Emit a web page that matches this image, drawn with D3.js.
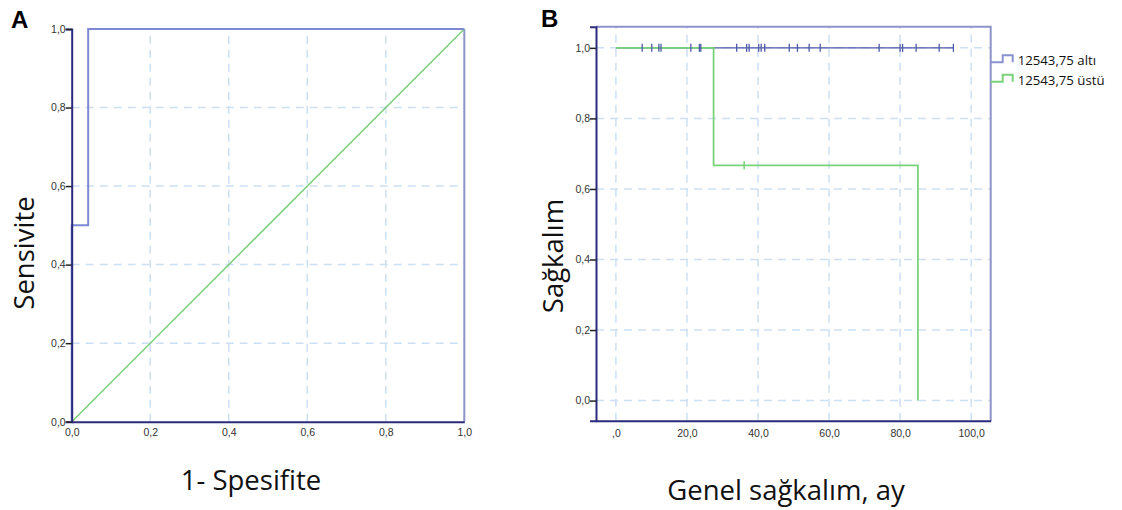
<!DOCTYPE html>
<html lang="tr">
<head>
<meta charset="UTF-8">
<title>ROC ve sağkalım</title>
<script src="https://d3js.org/d3.v7.min.js"></script>
<style>
  body { margin: 0; background: #fff; }
  svg { display: block; }
  .tick-label { font-family: "Liberation Sans", Arial, sans-serif; font-size: 10.5px; fill: #333; }
  .axis-title { font-family: "Open Sans", sans-serif; font-size: 27.5px; fill: #111; }
  .panel-letter { font-family: "Liberation Sans", Arial, sans-serif; font-size: 24px; font-weight: bold; fill: #000; }
  .legend-text { font-family: "Open Sans", sans-serif; font-size: 13.2px; fill: #111; }
</style>
</head>
<body>
<svg width="1122" height="510" id="mainsvg"></svg>
<script>
// ---- panel A: ROC ----
const rocFpr = [0, 0, 0.042, 0.042, 1];
const rocTpr = [0, 0.5, 0.5, 1, 1];
const refFpr = [0, 1];
const refTpr = [0, 1];
const ticksA = [0, 0.2, 0.4, 0.6, 0.8, 1];
const tickLabelsA = ["0,0", "0,2", "0,4", "0,6", "0,8", "1,0"];

// ---- panel B: Kaplan-Meier ----
const groups = ["12543,75 altı", "12543,75 üstü"];
const altiTimes = [0, 95.0];
const altiSurv = [1, 1];
const altiCensor = [7.4, 10.1, 12.1, 12.7, 21.1, 23.5, 23.9, 34.0, 36.8, 37.5, 40.2, 40.9, 41.9,
                    48.8, 51.1, 54.4, 57.5, 74.1, 80.0, 80.7, 84.5, 91.0, 95.0];
const ustuTimes = [0, 27.5, 85.0];
const ustuSurv = [1, 0.667, 0];
const ustuCensor = [36.1];
const ustuCensorSurv = [0.667];
const xTicksB = [0, 20, 40, 60, 80, 100];
const xTickLabelsB = [",0", "20,0", "40,0", "60,0", "80,0", "100,0"];
const yTicksB = [0, 0.2, 0.4, 0.6, 0.8, 1];
const yTickLabelsB = ["0,0", "0,2", "0,4", "0,6", "0,8", "1,0"];

const svg = d3.select("#mainsvg")
svg.append("rect").attr("width", 1122).attr("height", 510).attr("fill", "#fff")

const gridColor = "#cde0f3"
const axisColor = "#2b2b7e"
const frameColor = "#8e93c8"
const green = "#78d27a"

// ================= A =================
const xA = d3.scaleLinear().domain([0, 1]).range([71.7, 464.3])
const yA = d3.scaleLinear().domain([0, 1]).range([421.7, 29])
const gA = svg.append("g")

// grid
gA.selectAll(".vgrid").data(ticksA.slice(1, 5)).join("line")
    .attr("x1", d => xA(d)).attr("x2", d => xA(d))
    .attr("y1", yA(0)).attr("y2", yA(1))
    .attr("stroke", gridColor).attr("stroke-width", 1.5).attr("stroke-dasharray", "8,6")
gA.selectAll(".hgrid").data(ticksA.slice(1, 5)).join("line")
    .attr("x1", xA(0)).attr("x2", xA(1))
    .attr("y1", d => yA(d)).attr("y2", d => yA(d))
    .attr("stroke", gridColor).attr("stroke-width", 1.5).attr("stroke-dasharray", "8,6")

// right frame
gA.append("line").attr("x1", xA(1)).attr("x2", xA(1)).attr("y1", yA(0)).attr("y2", yA(1))
    .attr("stroke", frameColor).attr("stroke-width", 2)

// reference diagonal
const lineA = d3.line().x(d => xA(d[0])).y(d => yA(d[1]))
gA.append("path").datum(d3.zip(refFpr, refTpr)).attr("d", lineA)
    .attr("fill", "none").attr("stroke", green).attr("stroke-width", 1.5)

// ROC curve
gA.append("path").datum(d3.zip(rocFpr, rocTpr)).attr("d", lineA)
    .attr("fill", "none").attr("stroke", "#7f89d3").attr("stroke-width", 2)

// axes
const axisLeftA = d3.axisLeft(yA).tickValues(ticksA).tickSize(6).tickFormat((d, i) => tickLabelsA[i])
const axisBottomA = d3.axisBottom(xA).tickValues(ticksA).tickSize(0).tickPadding(7).tickFormat((d, i) => tickLabelsA[i])
const yAxisA = gA.append("g").attr("transform", `translate(${xA(0)},0)`).call(axisLeftA)
const xAxisA = gA.append("g").attr("transform", `translate(0,${yA(0)})`).call(axisBottomA)
;[yAxisA, xAxisA].forEach(a => {
    a.select(".domain").attr("stroke", axisColor).attr("stroke-width", 2)
    a.selectAll(".tick line").attr("stroke", "#222").attr("stroke-width", 1.5)
    a.selectAll(".tick text").attr("class", "tick-label").attr("font-family", null).attr("font-size", null)
})
yAxisA.selectAll(".tick text").attr("x", -6)

gA.append("text").attr("class", "panel-letter").attr("x", 11).attr("y", 28).text("A")
gA.append("text").attr("class", "axis-title")
    .attr("transform", `translate(34,253) rotate(-90)`)
    .attr("text-anchor", "middle").text("Sensivite")
gA.append("text").attr("class", "axis-title").attr("x", 251).attr("y", 490)
    .attr("text-anchor", "middle").text("1- Spesifite")

// ================= B =================
const xB = d3.scaleLinear().domain([-5.6, 105.5]).range([596, 990.7])
const yB = d3.scaleLinear().domain([-0.057, 1.06]).range([420.7, 26.7])
const gB = svg.append("g")

// grid
gB.selectAll(".vgrid").data(xTicksB).join("line")
    .attr("x1", d => xB(d)).attr("x2", d => xB(d))
    .attr("y1", yB.range()[0]).attr("y2", yB.range()[1])
    .attr("stroke", gridColor).attr("stroke-width", 1.5).attr("stroke-dasharray", "8,6")
gB.selectAll(".hgrid").data(yTicksB).join("line")
    .attr("x1", xB.range()[0]).attr("x2", xB.range()[1])
    .attr("y1", d => yB(d)).attr("y2", d => yB(d))
    .attr("stroke", gridColor).attr("stroke-width", 1.5).attr("stroke-dasharray", "8,6")

// top + right frame
gB.append("path")
    .attr("d", `M${xB.range()[0]},${yB.range()[1]}H${xB.range()[1]}V${yB.range()[0]}`)
    .attr("fill", "none").attr("stroke", frameColor).attr("stroke-width", 2)

const stepB = d3.line().x(d => xB(d[0])).y(d => yB(d[1])).curve(d3.curveStepAfter)
const blue = "#4d59a8"
gB.append("path").datum(d3.zip(altiTimes, altiSurv)).attr("d", stepB)
    .attr("fill", "none").attr("stroke", blue).attr("stroke-width", 1.3)
gB.append("path").datum(d3.zip(ustuTimes, ustuSurv)).attr("d", stepB)
    .attr("fill", "none").attr("stroke", green).attr("stroke-width", 1.8)

// censor marks
gB.selectAll(".cens-a").data(altiCensor).join("line")
    .attr("x1", d => xB(d)).attr("x2", d => xB(d))
    .attr("y1", yB(1) - 4).attr("y2", yB(1) + 4)
    .attr("stroke", blue).attr("stroke-width", 1.3)
gB.selectAll(".cens-u").data(d3.zip(ustuCensor, ustuCensorSurv)).join("line")
    .attr("x1", d => xB(d[0])).attr("x2", d => xB(d[0]))
    .attr("y1", d => yB(d[1]) - 4).attr("y2", d => yB(d[1]) + 4)
    .attr("stroke", green).attr("stroke-width", 1.5)

// axes
const axisLeftB = d3.axisLeft(yB).tickValues(yTicksB).tickSize(6).tickFormat((d, i) => yTickLabelsB[i])
const axisBottomB = d3.axisBottom(xB).tickValues(xTicksB).tickSize(0).tickPadding(9).tickFormat((d, i) => xTickLabelsB[i])
const yAxisB = gB.append("g").attr("transform", `translate(${xB.range()[0]},0)`).call(axisLeftB)
const xAxisB = gB.append("g").attr("transform", `translate(0,${yB.range()[0]})`).call(axisBottomB)
;[yAxisB, xAxisB].forEach(a => {
    a.select(".domain").attr("stroke", axisColor).attr("stroke-width", 2)
    a.selectAll(".tick line").attr("stroke", "#222").attr("stroke-width", 1.5)
    a.selectAll(".tick text").attr("class", "tick-label").attr("font-family", null).attr("font-size", null)
})
yAxisB.selectAll(".tick text").attr("x", -6)

// legend
const legend = gB.selectAll(".legend").data(groups).join("g")
    .attr("transform", (d, i) => `translate(${xB.range()[1]},${62.3 + i * 19.4})`)
legend.append("path")
    .attr("d", "M0,0H12V-7H22V0")
    .attr("fill", "none").attr("stroke", (d, i) => i === 0 ? "#8a93cf" : green).attr("stroke-width", 2)
legend.append("text").attr("class", "legend-text").attr("x", 27).attr("y", 3).text(d => d)

gB.append("text").attr("class", "panel-letter").attr("x", 541).attr("y", 27).text("B")
gB.append("text").attr("class", "axis-title")
    .attr("transform", `translate(563,256) rotate(-90)`)
    .attr("text-anchor", "middle").text("Sağkalım")
gB.append("text").attr("class", "axis-title").attr("x", 786).attr("y", 500)
    .attr("text-anchor", "middle").text("Genel sağkalım, ay")
</script>
</body>
</html>
